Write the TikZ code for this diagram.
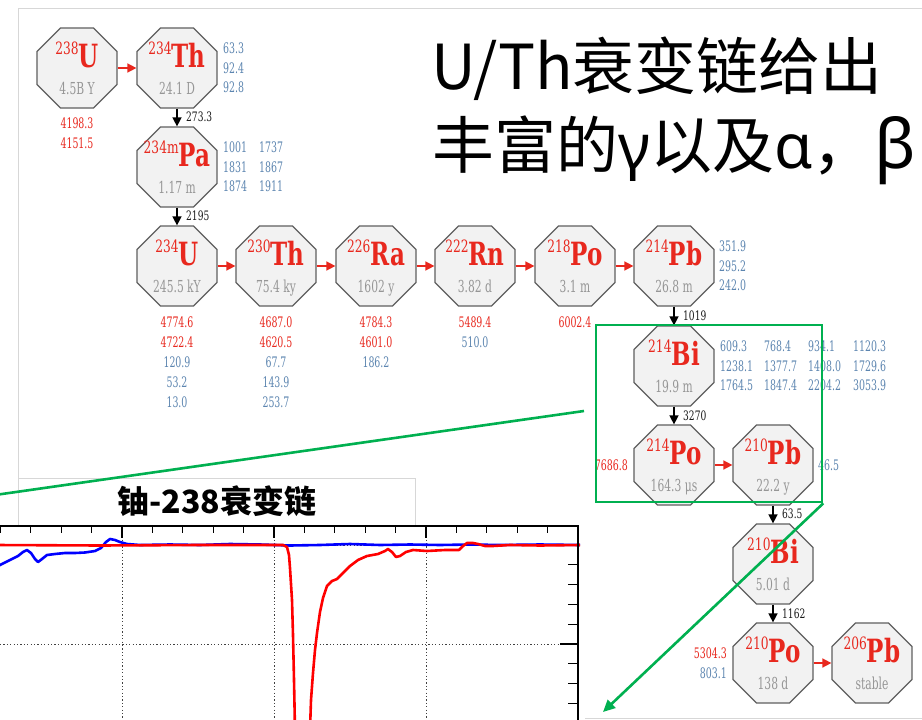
\documentclass[tikz,border=0pt]{standalone}
\usepackage{fontspec}
\usetikzlibrary{shapes.geometric,arrows.meta}
\newfontfamily\nf[FakeStretch=0.65]{DejaVu Serif}
\newfontfamily\symf[FakeStretch=0.72]{DejaVu Serif}
\newfontfamily\labf[FakeStretch=0.7]{DejaVu Serif}
\newfontfamily\cjk{Noto Sans CJK SC}
\newfontfamily\gk{Noto Sans}
\definecolor{nred}{RGB}{232,40,30}
\definecolor{nblue}{RGB}{92,133,176}
\definecolor{ngray}{RGB}{150,150,150}
\definecolor{ofill}{RGB}{242,242,242}
\definecolor{oline}{RGB}{95,95,95}
\definecolor{pgreen}{RGB}{0,176,80}
\definecolor{framegray}{RGB}{215,215,215}
\tikzset{
 oct/.style={regular polygon, regular polygon sides=8, minimum size=86.6pt, inner sep=0pt, draw=oline, fill=ofill, line width=1.2pt},
 sym/.style={anchor=base, inner sep=0pt, text=nred},
 half/.style={anchor=base, inner sep=0pt, text=ngray, font=\nf\fontsize{16.5}{18}\selectfont},
 num/.style={inner sep=0pt, font=\nf\fontsize{14.5}{16}\selectfont},
 rnum/.style={num, text=nred},
 bnum/.style={num, text=nblue},
 alab/.style={inner sep=0pt, anchor=west, text=black!90, font=\labf\fontsize{13}{14}\selectfont},
 harr/.style={draw=nred, line width=1.5pt, -{Triangle[length=9pt,width=9pt]}},
 varr/.style={draw=black, line width=1.4pt, -{Triangle[length=9pt,width=9pt]}},
 framel/.style={draw=framegray, line width=0.8pt},
 tk/.style={draw=black, line width=1.2pt},
 gridl/.style={draw=black!75, line width=1pt, dash pattern=on 1.2pt off 2.2pt},
 redc/.style={draw=red, line width=2.6pt, line join=round},
 bluec/.style={draw=blue, line width=2.6pt, line join=round},
 gline/.style={draw=pgreen, line width=2.6pt},
}
\newcommand\nucl[5]{%
 \node[oct] (#1) at (#2) {};
 \node[sym] at ([yshift=1pt]#1.center) {{\symf\fontsize{17}{17}\selectfont\raisebox{13pt}{#3}}{\symf\bfseries\fontsize{32}{32}\selectfont #4}};
 \node[half] at ([yshift=-26pt]#1.center) {#5};
}
\begin{document}
\begin{tikzpicture}[x=1pt,y=-1pt]
\clip (0,0) rectangle (922,720);
\fill[white] (0,0) rectangle (922,720);
\draw[framel] (18,480) -- (18,8) -- (922,8);
\draw[framel] (585,718) -- (922,718);

% title text
\node[anchor=base west, inner sep=0pt] (t1) at (431,89) {\cjk\fontsize{62}{62}\selectfont U/Th衰变链给出};
\node[anchor=base west, inner sep=0pt] (t2) at (432,168) {\cjk\fontsize{62}{62}\selectfont 丰富的{\gk γ}以及{\gk α}，{\gk\fontsize{68}{68}\selectfont β}};

% nuclei
\nucl{u238}{77,68}{238}{U}{4.5B Y}
\nucl{th234}{177,68}{234}{Th}{24.1 D}
\nucl{pa234}{177,167}{234m}{Pa}{1.17 m}
\nucl{u234}{177,266}{234}{U}{245.5 kY}
\nucl{th230}{276,266}{230}{Th}{75.4 ky}
\nucl{ra226}{376,266}{226}{Ra}{1602 y}
\nucl{rn222}{475,266}{222}{Rn}{3.82 d}
\nucl{po218}{575,266}{218}{Po}{3.1 m}
\nucl{pb214}{674,266}{214}{Pb}{26.8 m}
\nucl{bi214}{674,366}{214}{Bi}{19.9 m}
\nucl{po214}{674,465}{214}{Po}{164.3 μs}
\nucl{pb210}{773,465}{210}{Pb}{22.2 y}
\nucl{bi210}{773,564}{210}{Bi}{5.01 d}
\nucl{po210}{773,663}{210}{Po}{138 d}
\nucl{pb206}{872,663}{206}{Pb}{stable}

% decay arrows
\draw[harr] (u238.east) -- (th234.west);
\draw[harr] (u234.east) -- (th230.west);
\draw[harr] (th230.east) -- (ra226.west);
\draw[harr] (ra226.east) -- (rn222.west);
\draw[harr] (rn222.east) -- (po218.west);
\draw[harr] (po218.east) -- (pb214.west);
\draw[harr] (po214.east) -- (pb210.west);
\draw[harr] (po210.east) -- (pb206.west);
\draw[varr] (th234.south) -- (pa234.north);
\draw[varr] (pa234.south) -- (u234.north);
\draw[varr] (pb214.south) -- (bi214.north);
\draw[varr] (bi214.south) -- (po214.north);
\draw[varr] (pb210.south) -- (bi210.north);
\draw[varr] (bi210.south) -- (po210.north);

% arrow labels
\node[alab] at (186,117) {273.3};
\node[alab] at (186,216) {2195};
\node[alab] at (683,316) {1019};
\node[alab] at (683,416) {3270};
\node[alab] at (782,514) {63.5};
\node[alab] at (782,614) {1162};

% energies below
\node[rnum] at (77,123) {4198.3};
\node[rnum] at (77,143) {4151.5};
\foreach \y/\t/\c in {322/4774.6/nred,342/4722.4/nred,362/120.9/nblue,382/53.2/nblue,402/13.0/nblue}
  \node[num,text=\c] at (177,\y) {\t};
\foreach \y/\t/\c in {322/4687.0/nred,342/4620.5/nred,362/67.7/nblue,382/143.9/nblue,402/253.7/nblue}
  \node[num,text=\c] at (276,\y) {\t};
\foreach \y/\t/\c in {322/4784.3/nred,342/4601.0/nred,362/186.2/nblue}
  \node[num,text=\c] at (376,\y) {\t};
\node[rnum] at (475,322) {5489.4};
\node[bnum] at (475,342) {510.0};
\node[rnum] at (575,322) {6002.4};

% gamma lines at side
\foreach \y/\t in {48/63.3,68/92.4,87.5/92.8}
  \node[bnum,anchor=west] at (223,\y) {\t};
\foreach \y/\a/\b in {147/1001/1737,167/1831/1867,186.5/1874/1911}{
  \node[bnum,anchor=west] at (223,\y) {\a};
  \node[bnum,anchor=west] at (259,\y) {\b};}
\foreach \y/\t in {246/351.9,266/295.2,285.5/242.0}
  \node[bnum,anchor=west] at (719,\y) {\t};
\foreach \y/\a/\b/\c/\d in {346/609.3/768.4/934.1/1120.3,366/1238.1/1377.7/1408.0/1729.6,385.5/1764.5/1847.4/2204.2/3053.9}{
  \node[bnum,anchor=west] at (720,\y) {\a};
  \node[bnum,anchor=west] at (764,\y) {\b};
  \node[bnum,anchor=west] at (808,\y) {\c};
  \node[bnum,anchor=west] at (853,\y) {\d};}
\node[rnum,anchor=east] at (628,465) {7686.8};
\node[bnum,anchor=west] at (818,465) {46.5};
\node[rnum,anchor=east] at (727,653) {5304.3};
\node[bnum,anchor=east] at (727,673) {803.1};

% chart title box
\draw[framel, fill=white] (18,478) rectangle (415,545);
\node (ctitle) at (217,501) {\cjk\bfseries\fontsize{32}{32}\selectfont 铀-238衰变链};

% chart
\fill[white] (-10,526) rectangle (578,730);
\draw[gridl] (122,526) -- (122,730);
\draw[gridl] (274,526) -- (274,730);
\draw[gridl] (426,526) -- (426,730);
\draw[gridl] (0,644) -- (578,644);
\draw[gridl] (0,545) -- (578,545);
\foreach \i in {1,...,19}{
  \pgfmathtruncatemacro\m{mod(\i,5)}
  \pgfmathsetmacro\xx{-30+30.4*\i}
  \ifnum\m=0 \draw[tk] (\xx,526) -- ++(0,12); \else \draw[tk] (\xx,526) -- ++(0,7); \fi
}
\foreach \i in {1,...,9}{
  \pgfmathsetmacro\yy{525.2+19.8*\i}
  \ifnum\i=1 \draw[tk] (578,\yy) -- ++(-18,0);
  \else\ifnum\i=6 \draw[tk] (578,\yy) -- ++(-18,0);
  \else \draw[tk] (578,\yy) -- ++(-10,0); \fi\fi
}
\draw[bluec] (-5,568) -- (0,565) -- (6,562) -- (12,559) -- (18,556) -- (23,552) -- (27,550) -- (31,553) -- (35,559) -- (38,562) -- (42,559) -- (47,555) -- (55,554) -- (65,553) -- (75,553) -- (85,552.5) -- (95,551) -- (101,548) -- (106,542) -- (110,539) -- (115,540) -- (120,542) -- (127,544) -- (140,545) -- (170,544.5) -- (200,545) -- (230,544) -- (260,544.5) -- (290,545.5) -- (320,545) -- (350,544) -- (380,545) -- (410,544.5) -- (440,545) -- (470,544.5) -- (500,545) -- (540,544.5) -- (580,545);
\draw[redc] (-5,545) -- (100,545.5) -- (200,545) -- (283,545) -- (287,547) -- (289,555) -- (290,568) -- (292,600) -- (293,635) -- (294,680) -- (295,730) -- (310,730) -- (311,700) -- (313,673) -- (315,650) -- (317,633) -- (320,612) -- (323,598) -- (327,586) -- (332,581) -- (337,579) -- (343,573) -- (350,566) -- (358,560) -- (367,556) -- (378,554) -- (385,551) -- (388,549) -- (392,552) -- (396,557) -- (400,556) -- (406,552) -- (413,550) -- (427,551) -- (445,550) -- (459,550) -- (463,546) -- (467,543) -- (473,543) -- (478,544) -- (485,546) -- (493,546) -- (510,545) -- (540,545.5) -- (580,545);
\draw[line width=1.6pt] (-10,526) -- (578,526) -- (578,730);

% green highlight
\node[draw=pgreen, line width=2.6pt, minimum width=226pt, minimum height=177pt, inner sep=0pt] (zoombox) at (709,413.5) {};
\coordinate (g1) at (584,411);
\coordinate (g0) at (-5,495);
\coordinate (gtip) at (603,712);
\draw[gline] (g1) -- (g0);
\draw[gline, -{Triangle[length=12pt,width=11pt]}] (zoombox.south east) -- (gtip);
\end{tikzpicture}
\end{document}
